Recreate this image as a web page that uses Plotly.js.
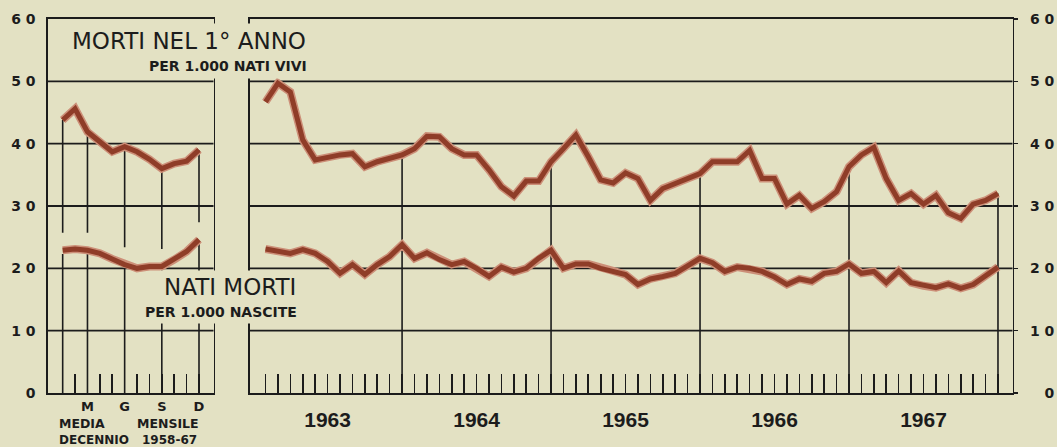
<!DOCTYPE html>
<html>
<head>
<meta charset="utf-8">
<script src="https://cdn.plot.ly/plotly-3.0.1.min.js"></script>
<style>
  html, body { margin: 0; padding: 0; background: #e3e1c3; }
  #chart { width: 1057px; height: 447px; }
</style>
</head>
<body>
<div id="chart"></div>
<script>
// ---- Data ----
// Left panel: monthly average of the decade 1958-67 (Jan..Dec, Italian initials)
const monthInitials = ['G','F','M','A','M','G','L','A','S','O','N','D'];
const monthLabelsShown = ['', '', 'M', '', '', 'G', '', '', 'S', '', '', 'D'];
const avgInfantDeaths = [43.8, 45.6, 41.9, 40.3, 38.7, 39.5, 38.7, 37.5, 36.0, 36.8, 37.2, 39.0];
const avgStillbirths  = [22.9, 23.1, 22.9, 22.4, 21.5, 20.6, 20.0, 20.3, 20.3, 21.4, 22.7, 24.6];

// Right panel: monthly values 1963-1967
const years = ['1963', '1964', '1965', '1966', '1967'];
const infantDeaths = [
  46.7, 49.7, 48.3, 40.6, 37.4, 37.9, 38.2, 38.4, 36.3, 37.1, 37.6, 38.2,
  39.2, 41.2, 41.1, 39.2, 38.2, 38.2, 35.8, 33.1, 31.6, 34.0, 34.0, 37.1,
  39.2, 41.4, 37.9, 34.2, 33.7, 35.3, 34.4, 30.9, 32.8, 33.6, 34.4, 35.2,
  37.1, 37.1, 37.1, 38.9, 34.4, 34.4, 30.3, 31.7, 29.6, 30.7, 32.3, 36.3,
  38.2, 39.4, 34.4, 30.9, 32.0, 30.3, 31.7, 28.9, 28.0, 30.3, 30.9, 32.0
];
const stillbirths = [
  23.1, 22.8, 22.4, 23.0, 22.4, 21.1, 19.2, 20.6, 19.0, 20.6, 21.9, 23.8,
  21.6, 22.5, 21.4, 20.6, 21.1, 20.0, 18.7, 20.2, 19.4, 20.0, 21.6, 22.9,
  20.0, 20.7, 20.7, 20.0, 19.6, 19.0, 17.4, 18.3, 18.7, 19.2, 20.4, 21.6,
  20.9, 19.5, 20.2, 20.0, 19.5, 18.6, 17.4, 18.3, 17.9, 19.2, 19.5, 20.7,
  19.2, 19.5, 17.7, 19.6, 17.7, 17.2, 16.9, 17.5, 16.8, 17.4, 18.7, 20.2
];
const yTickValues = [0, 10, 20, 30, 40, 50, 60];

// ---- Styling ----
const BG = '#e3e1c3';
const INK = '#1c1c1c';
const CURVE = '#8f3d28';
const HALO = '#cc8f78';
const W = 1057, H = 447, TOP = 19, BOTTOM = 393;
const px = x => x / W;
const py = y => (BOTTOM - y) / (BOTTOM - TOP);

const leftIdx = avgInfantDeaths.map((_, i) => i);
const rightIdx = infantDeaths.map((_, i) => i);

// y tick labels, spaced like the original lettering
const SP = '\u2004';
const leftYText = yTickValues.map(v => String(v).split('').join(SP));
const rightYText = yTickValues.map(v => v < 10 ? '\u2007' + SP + v : String(v).split('').join(SP));

// x tick labels for the right panel: year name under June of each year
const rightXText = rightIdx.map(i => (i % 12 === 5) ? years[Math.floor(i / 12)] : '');

// Drop lines (left: J, M, G, S, D; right: every December)
const leftDropMonths = [0, 2, 5, 8, 11];
const ldx = [], ldy = [];
leftDropMonths.forEach(m => {
  ldx.push(m, m, null, m, m, null);
  ldy.push(0, avgStillbirths[m] - 0.6, null, avgStillbirths[m] + 2.8, avgInfantDeaths[m], null);
});
const rdx = [], rdy = [];
rightIdx.filter(i => i % 12 === 11).forEach(i => {
  rdx.push(i, i, null);
  rdy.push(0, infantDeaths[i], null);
});

function curve(x, y, xa, ya, color, width) {
  return { type: 'scatter', mode: 'lines', x: x, y: y, xaxis: xa, yaxis: ya,
           line: { color: color, width: width, shape: 'linear' },
           hoverinfo: 'skip', showlegend: false };
}

const traces = [
  { type: 'scatter', mode: 'lines', x: ldx, y: ldy, xaxis: 'x', yaxis: 'y', connectgaps: false,
    line: { color: INK, width: 1.6 }, hoverinfo: 'skip', showlegend: false },
  { type: 'scatter', mode: 'lines', x: rdx, y: rdy, xaxis: 'x2', yaxis: 'y2', connectgaps: false,
    line: { color: INK, width: 1.6 }, hoverinfo: 'skip', showlegend: false },
  curve(leftIdx, avgInfantDeaths, 'x', 'y', HALO, 8),
  curve(leftIdx, avgStillbirths, 'x', 'y', HALO, 8),
  curve(rightIdx, infantDeaths, 'x2', 'y2', HALO, 8),
  curve(rightIdx, stillbirths, 'x2', 'y2', HALO, 8),
  curve(leftIdx, avgInfantDeaths, 'x', 'y', CURVE, 5),
  curve(leftIdx, avgStillbirths, 'x', 'y', CURVE, 5),
  curve(rightIdx, infantDeaths, 'x2', 'y2', CURVE, 5),
  curve(rightIdx, stillbirths, 'x2', 'y2', CURVE, 5)
];

// horizontal grid lines at the inner tick values, for both panels
const gridShapes = [];
yTickValues.filter(v => v > 0 && v < 60).forEach(v => {
  [['x domain', 'y'], ['x2 domain', 'y2']].forEach(([xr, yr]) => {
    gridShapes.push({ type: 'line', xref: xr, yref: yr, x0: 0, x1: 1, y0: v, y1: v,
                      layer: 'below', line: { color: INK, width: 1.8 } });
  });
});

const frame = { showline: true, mirror: true, linecolor: INK, linewidth: 1.8, zeroline: false, fixedrange: true };
const yFont = { family: 'DejaVu Sans', size: 14, color: INK, weight: 'bold' };

const layout = {
  width: W, height: H,
  margin: { l: 0, r: 0, t: TOP, b: H - BOTTOM, autoexpand: false },
  paper_bgcolor: BG, plot_bgcolor: BG,
  showlegend: false, hovermode: false,
  shapes: gridShapes,
  xaxis: Object.assign({}, frame, {
    domain: [px(48), px(213.5)], range: [-1.185, 12.17], anchor: 'y',
    tickmode: 'array', tickvals: leftIdx, ticktext: monthLabelsShown,
    ticks: 'inside', ticklen: 19, tickwidth: 1.6, tickcolor: INK, showgrid: false,
    tickfont: { family: 'DejaVu Sans', size: 13, color: INK, weight: 'bold' },
    ticklabelstandoff: 1
  }),
  yaxis: Object.assign({}, frame, {
    domain: [0, 1], range: [0, 60], anchor: 'x',
    tickmode: 'array', tickvals: yTickValues, ticktext: leftYText,
    showgrid: false, ticks: '',
    tickfont: yFont, ticklabelstandoff: 8
  }),
  xaxis2: Object.assign({}, frame, {
    domain: [px(250), px(1012.5)], range: [-1.25, 60.17], anchor: 'y2',
    tickmode: 'array', tickvals: rightIdx, ticktext: rightXText,
    ticks: 'inside', ticklen: 19, tickwidth: 1.6, tickcolor: INK, showgrid: false,
    tickfont: { family: 'Liberation Sans', size: 21, color: INK, weight: 'bold' },
    ticklabelstandoff: 7
  }),
  yaxis2: Object.assign({}, frame, {
    domain: [0, 1], range: [0, 60], anchor: 'x2', side: 'right',
    tickmode: 'array', tickvals: yTickValues, ticktext: rightYText,
    showgrid: false,
    ticks: 'outside', ticklen: 4, tickwidth: 1.6, tickcolor: INK,
    tickfont: yFont, ticklabelstandoff: 9
  }),
  annotations: [
    { text: 'MORTI NEL 1° ANNO', xref: 'paper', yref: 'paper', x: px(311), y: py(41),
      xanchor: 'right', yanchor: 'middle', showarrow: false, bgcolor: BG, borderpad: 4,
      font: { family: 'DejaVu Sans', size: 23, color: INK } },
    { text: 'PER 1.000 NATI VIVI', xref: 'paper', yref: 'paper', x: px(312), y: py(65.5),
      xanchor: 'right', yanchor: 'middle', showarrow: false, bgcolor: BG, borderpad: 4,
      font: { family: 'DejaVu Sans', size: 14, color: INK, weight: 'bold' } },
    { text: 'NATI MORTI', xref: 'paper', yref: 'paper', x: px(300), y: py(287),
      xanchor: 'right', yanchor: 'middle', showarrow: false, bgcolor: BG, borderpad: 3,
      font: { family: 'DejaVu Sans', size: 23, color: INK } },
    { text: 'PER 1.000 NASCITE', xref: 'paper', yref: 'paper', x: px(301), y: py(312),
      xanchor: 'right', yanchor: 'middle', showarrow: false, bgcolor: BG, borderpad: 3,
      font: { family: 'DejaVu Sans', size: 14, color: INK, weight: 'bold' } },
    { text: 'MEDIA', xref: 'paper', yref: 'paper', x: px(57), y: py(423),
      xanchor: 'left', yanchor: 'middle', showarrow: false,
      font: { family: 'DejaVu Sans', size: 12.5, color: INK, weight: 'bold' } },
    { text: 'MENSILE', xref: 'paper', yref: 'paper', x: px(201), y: py(423),
      xanchor: 'right', yanchor: 'middle', showarrow: false,
      font: { family: 'DejaVu Sans', size: 12.5, color: INK, weight: 'bold' } },
    { text: 'DECENNIO', xref: 'paper', yref: 'paper', x: px(57), y: py(440),
      xanchor: 'left', yanchor: 'middle', showarrow: false,
      font: { family: 'DejaVu Sans', size: 12, color: INK, weight: 'bold' } },
    { text: '1958-67', xref: 'paper', yref: 'paper', x: px(199), y: py(440),
      xanchor: 'right', yanchor: 'middle', showarrow: false,
      font: { family: 'DejaVu Sans', size: 12, color: INK, weight: 'bold' } }
  ]
};

Plotly.newPlot('chart', traces, layout, { displayModeBar: false, staticPlot: true });
</script>
</body>
</html>
